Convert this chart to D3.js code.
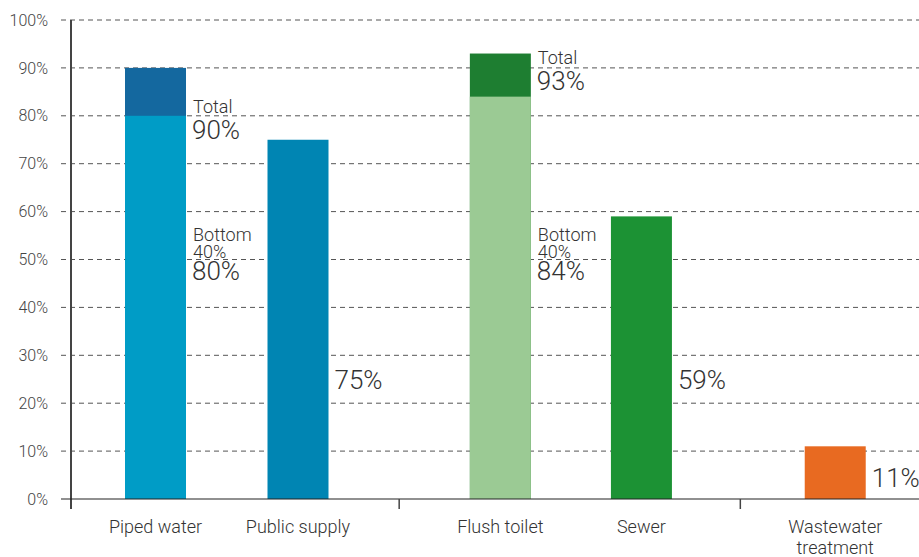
<!DOCTYPE html>
<html><head><meta charset="utf-8">
<script src="https://cdnjs.cloudflare.com/ajax/libs/d3/7.8.5/d3.min.js"></script>
<style>
html,body{margin:0;padding:0;background:#fff;}
text{font-family:Roboto,"Open Sans",sans-serif;font-weight:300;fill:#333;}
</style></head>
<body><svg id="c" width="919" height="557"></svg>
<script>
// ---- data ----
const categories = ["Piped water", "Public supply", "Flush toilet", "Sewer", "Wastewater\ntreatment"];
const totalValues = [90, 75, 93, 59, 11];
const bottom40Values = [80, null, 84, null, null];
const yTicks = [0, 10, 20, 30, 40, 50, 60, 70, 80, 90, 100];
const totalColors = ["#14689F", "#0085B3", "#1E7E31", "#1C9234", "#E86A21"];
const bottomColors = ["#009CC6", null, "#9BCA94", null, null];

// ---- layout ----
const slots = [0, 1, 2.42, 3.41, 4.77];
const W = 919, H = 557;
const svg = d3.select("#c");
const y = d3.scaleLinear().domain([0, 100]).range([499, 20]);
const xc = d3.scaleLinear().domain([0, 1]).range([155.5, 298]);
const barW = 61;
const axisX = 71;

// gridlines
const grid = svg.append("g");
yTicks.forEach(t => {
  if (t === 0) return;
  grid.append("line").attr("x1", 61).attr("x2", W).attr("y1", y(t)).attr("y2", y(t))
    .attr("stroke", "#555").attr("stroke-width", 1).attr("stroke-dasharray", "5,4");
});

// y axis
const yAxis = d3.axisLeft(y).tickValues(yTicks).tickFormat(d => d + "%").tickSize(0).tickPadding(23);
const ya = svg.append("g").attr("transform", `translate(${axisX},0)`).call(yAxis);
ya.select(".domain").remove();
ya.selectAll("text").style("font-size", "16px").style("fill", "#444")
  .style("font-family", "Roboto, sans-serif").style("font-weight", "300");
svg.append("line").attr("x1", axisX).attr("x2", axisX).attr("y1", y(100)).attr("y2", 509)
  .attr("stroke", "#444").attr("stroke-width", 2);

// bars
categories.forEach((c, i) => {
  const cx = xc(slots[i]);
  svg.append("rect").attr("x", cx - barW / 2).attr("width", barW)
    .attr("y", y(totalValues[i])).attr("height", y(0) - y(totalValues[i])).attr("fill", totalColors[i]);
  if (bottom40Values[i] != null) {
    svg.append("rect").attr("x", cx - barW / 2).attr("width", barW)
      .attr("y", y(bottom40Values[i])).attr("height", y(0) - y(bottom40Values[i])).attr("fill", bottomColors[i]);
  }
});

// baseline
svg.append("line").attr("x1", 61).attr("x2", W).attr("y1", y(0)).attr("y2", y(0))
  .attr("stroke", "#222").attr("stroke-width", 1.2);
// group separators
const seps = [(xc(slots[1]) + xc(slots[2])) / 2, (xc(slots[3]) + xc(slots[4])) / 2 + 2];
seps.forEach(sx => {
  svg.append("line").attr("x1", sx).attr("x2", sx).attr("y1", y(0)).attr("y2", 509)
    .attr("stroke", "#444").attr("stroke-width", 1.5);
});

// category labels
categories.forEach((c, i) => {
  const cx = xc(slots[i]);
  const lines = c.split("\n");
  const t = svg.append("text").attr("x", cx).attr("y", 533).attr("text-anchor", "middle")
    .style("font-size", "18px").style("fill", "#333");
  lines.forEach((l, k) => t.append("tspan").attr("x", cx).attr("dy", k === 0 ? 0 : 21).text(l));
});

// value labels
const totalLabelY = { 0: y(totalValues[0]) + 45, 2: y(totalValues[2]) + 10 };
categories.forEach((c, i) => {
  const lx = xc(slots[i]) + barW / 2 + 7;
  if (bottom40Values[i] != null) {
    const ty = totalLabelY[i];
    svg.append("text").attr("x", lx).attr("y", ty).style("font-size", "18px").text("Total");
    svg.append("text").attr("x", lx - 1).attr("y", ty + 26.5).style("font-size", "26px").text(totalValues[i] + "%");
    const by = y(55);
    svg.append("text").attr("x", lx).attr("y", by + 5).style("font-size", "18px").text("Bottom");
    svg.append("text").attr("x", lx).attr("y", by + 22.5).style("font-size", "18px").text("40%");
    svg.append("text").attr("x", lx - 1).attr("y", by + 44).style("font-size", "26px").text(bottom40Values[i] + "%");
  } else {
    const vy = totalValues[i] > 30 ? y(23) : y(2.5);
    svg.append("text").attr("x", lx - 1).attr("y", vy).style("font-size", "26px").text(totalValues[i] + "%");
  }
});
</script></body></html>
